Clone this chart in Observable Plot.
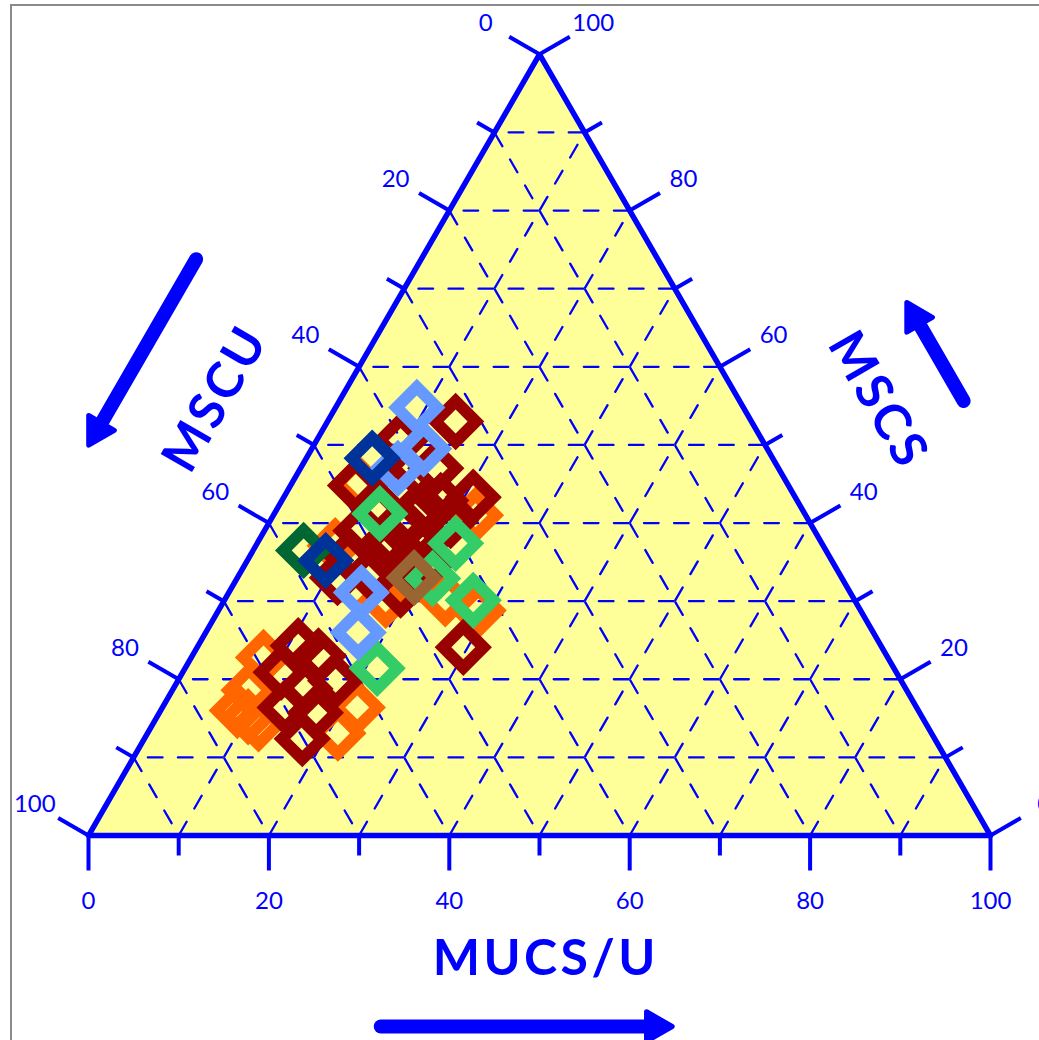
<!DOCTYPE html>
<html>
<head>
<meta charset="utf-8">
<script src="https://cdn.jsdelivr.net/npm/d3@7"></script>
<script src="https://cdn.jsdelivr.net/npm/@observablehq/plot@0.6"></script>
<style>
  html, body { margin: 0; padding: 0; overflow: hidden; background: #fff; }
  #wrap { position: relative; width: 1039px; height: 1040px; overflow: hidden; }
  #wrap svg { display: block; overflow: hidden; }
  .edge { position: absolute; background: #8a8a8a; }
</style>
</head>
<body>
<div id="wrap">
  <div class="edge" style="left:10px; top:4px; width:1029px; height:2px;"></div>
  <div class="edge" style="left:10px; top:4px; width:2px; height:1036px;"></div>
</div>
<script>
// Samples as ternary compositions, each row = [MUCS/U, MSCS, MSCU] in percent.
const orange = [
  [22.4, 41.0, 36.6], [7.4, 45.1, 47.5], [17.9, 30.1, 52.0], [24.4, 30.3, 45.3],
  [8.8, 37.1, 54.1], [28.8, 28.8, 42.4], [8.5, 16.0, 75.5], [10.1, 15.2, 74.7],
  [11.7, 14.3, 74.0], [8.0, 22.8, 69.2], [21.6, 16.4, 62.0], [21.1, 13.1, 65.8],
  [8.5, 18.6, 72.9]
];
const darkRed = [
  [14.2, 53.0, 32.8], [21.0, 43.3, 35.7], [7.2, 44.8, 48.0], [29.5, 24.1, 46.4],
  [15.0, 47.0, 38.0], [16.1, 41.9, 42.0], [15.1, 37.4, 47.5], [10.7, 39.0, 50.3],
  [14.5, 33.5, 52.0], [11.1, 33.0, 55.9], [20.0, 40.3, 39.7], [18.9, 31.4, 49.7],
  [9.3, 50.6, 40.1], [18.2, 37.1, 44.7], [11.0, 42.2, 46.8], [14.0, 36.7, 49.3],
  [15.3, 39.7, 45.0], [11.1, 35.8, 53.1], [17.6, 42.9, 39.5], [12.0, 44.2, 43.8],
  [20.1, 34.6, 45.3],
  [11.1, 24.3, 64.6], [10.9, 20.9, 68.2], [17.5, 19.8, 62.7], [13.6, 16.4, 70.0],
  [17.5, 12.4, 70.1], [17.3, 15.7, 67.0], [14.6, 18.8, 66.6], [14.0, 23.0, 63.0]
];
const green = [
  [11.7, 41.2, 47.1], [22.0, 37.4, 40.6], [21.7, 32.9, 45.4], [27.6, 30.1, 42.3],
  [21.3, 21.4, 57.3]
];
const lightBlue = [
  [9.0, 54.8, 36.2], [12.4, 49.5, 38.1], [10.8, 47.0, 42.2], [14.7, 31.1, 54.2],
  [16.9, 26.0, 57.1]
];
const darkGreen = [[5.6, 36.5, 57.9]];
const darkBlue = [[7.3, 48.3, 44.4], [8.7, 35.2, 56.1]];
const brown = [[19.6, 33.0, 47.4]];

// Drawing order (later series sit on top) and their colours.
const series = [
  {rows: orange, color: "#ff6600"},
  {rows: darkRed, color: "#990000"},
  {rows: green, color: "#33cc66"},
  {rows: lightBlue, color: "#6699ff"},
  {rows: darkGreen, color: "#006633"},
  {rows: darkBlue, color: "#003399"},
  {rows: brown, color: "#996633"}
];

const tickValues = d3.range(0, 101, 10);
const labelValues = d3.range(0, 101, 20);
const axisTitles = ["MUCS/U", "MSCU", "MSCS"];

// ---- layout ----
const W = 1039, H = 1040;
const S = 9.02;            // pixels per percent along a side
const ox = 88, oy = 835;   // lower-left corner of the triangle in pixels
const h = Math.sqrt(3) / 2;
const px = (p) => p / S;   // pixel length -> plot units
const blue = "#0000ff";
const font = "Lato, 'Open Sans', sans-serif";

// ternary [MUCS/U, MSCS] -> cartesian plot units
const pos = ([mucs, mscs]) => [mucs + mscs / 2, mscs * h];

// The three sides: start corner, unit direction along the side, outward normal.
const sides = {
  bottom: {p0: [0, 0], u: [1, 0], n: [0, -1], at: (k) => [k, 0]},          // MUCS/U = k
  left: {p0: [0, 0], u: [0.5, h], n: [-h, 0.5], at: (k) => [0, 100 - k]},   // MSCU = k
  right: {p0: [100, 0], u: [-0.5, h], n: [h, 0.5], at: (k) => [100 - k, k]} // MSCS = k
};
const along = (side, t, off) => [
  side.p0[0] + side.u[0] * 100 * t + side.n[0] * px(off),
  side.p0[1] + side.u[1] * 100 * t + side.n[1] * px(off)
];

const corners = [[0, 0], [100, 0], [0, 100], [0, 0], [100, 0]].map(pos);

// dashed grid: each line starts at a grid point with a dash
const inner = d3.range(10, 100, 10);
const grid = [
  ...inner.map((k) => ({a: [100 - k, k], b: [0, k]})),       // MSCS = k
  ...inner.map((k) => ({a: [k, 0], b: [k, 100 - k]})),       // MUCS/U = k
  ...inner.map((k) => ({a: [0, 100 - k], b: [100 - k, 0]}))  // MSCU = k
].map((d) => ({a: pos(d.a), b: pos(d.b)}));
const period = S * 10 / 3, gw = 2.3, dash = 17;

// ticks perpendicular to each side
const ticks = Object.values(sides).flatMap((s) => tickValues.map((k) => {
  const [x, y] = pos(s.at(k));
  const len = px(k % 20 === 0 ? 35 : 20);
  return {x1: x, y1: y, x2: x + s.n[0] * len, y2: y + s.n[1] * len};
}));
const labels = Object.entries(sides).flatMap(([name, s]) => labelValues.map((k) => {
  const [x, y] = pos(s.at(k));
  const off = px(name === "bottom" ? 66 : 62);
  return {x: x + s.n[0] * off, y: y + s.n[1] * off, text: String(k)};
}));

const titles = [
  {p: along(sides.bottom, 0.507, 123), text: axisTitles[0], rotate: 0},
  {p: along(sides.left, 0.49, 108), text: axisTitles[1], rotate: -60},
  {p: along(sides.right, 0.48, 120), text: axisTitles[2], rotate: 60}
].map((d) => ({x: d.p[0], y: d.p[1], text: d.text, rotate: d.rotate}));

// direction arrows beside the axis titles
const arrowSpecs = [
  {side: sides.bottom, from: 0.324, to: 0.647, off: 191, rot: 90},
  {side: sides.left, from: 0.613, to: 0.375, off: 195, rot: 210},
  {side: sides.right, from: 0.432, to: 0.558, off: 194, rot: 330}
];
const arrows = arrowSpecs.map((a) => {
  const [x1, y1] = along(a.side, a.from, a.off);
  const [xt, yt] = along(a.side, a.to, a.off);
  const L = Math.hypot(xt - x1, yt - y1);
  const back = px(17);
  const x2 = xt - (xt - x1) / L * back, y2 = yt - (yt - y1) / L * back;
  return {x1, y1, x2, y2, rot: a.rot};
});

const sampleMarks = series.map((s) => Plot.dot(s.rows, {
  x: (d) => pos(d)[0],
  y: (d) => pos(d)[1],
  symbol: "square",
  r: 16.2,
  rotate: 45,
  fill: "none",
  stroke: s.color,
  strokeWidth: 11.8
}));

const chart = Plot.plot({
  width: W,
  height: H,
  margin: 0,
  style: {background: "#ffffff", overflow: "hidden"},
  x: {domain: [-ox / S, (W - ox) / S], range: [0, W], axis: null},
  y: {domain: [(oy - H) / S, oy / S], range: [H, 0], axis: null},
  marks: [
    Plot.line(corners, {x: (d) => d[0], y: (d) => d[1], fill: "#ffff99", stroke: "none"}),
    Plot.link(grid, {
      x1: (d) => d.a[0], y1: (d) => d.a[1], x2: (d) => d.b[0], y2: (d) => d.b[1],
      stroke: blue, strokeWidth: gw, strokeLinecap: "round",
      strokeDasharray: `${dash - gw} ${period - dash + gw}`,
      strokeDashoffset: -gw / 2
    }),
    Plot.line(corners, {x: (d) => d[0], y: (d) => d[1], stroke: blue, strokeWidth: 5.5, strokeLinejoin: "bevel"}),
    Plot.link(ticks, {x1: "x1", y1: "y1", x2: "x2", y2: "y2", stroke: blue, strokeWidth: 4}),
    Plot.text(labels, {x: "x", y: "y", text: "text", fill: blue, fontSize: 24, fontFamily: font}),
    Plot.text(titles, {x: "x", y: "y", text: "text", rotate: "rotate", fill: blue,
      fontSize: 50, fontWeight: "bold", fontFamily: font}),
    Plot.link(arrows, {x1: "x1", y1: "y1", x2: "x2", y2: "y2", stroke: blue, strokeWidth: 14, strokeLinecap: "round"}),
    Plot.dot(arrows, {x: "x2", y: "y2", symbol: "triangle", r: 11, rotate: "rot",
      fill: blue, stroke: blue, strokeWidth: 5, strokeLinejoin: "round"}),
    ...sampleMarks
  ]
});

// the axis titles are set a little wider
d3.select(chart).selectAll("text")
  .filter(function () { return axisTitles.includes(this.textContent); })
  .attr("letter-spacing", "3.5px");

document.getElementById("wrap").prepend(chart);
</script>
</body>
</html>
